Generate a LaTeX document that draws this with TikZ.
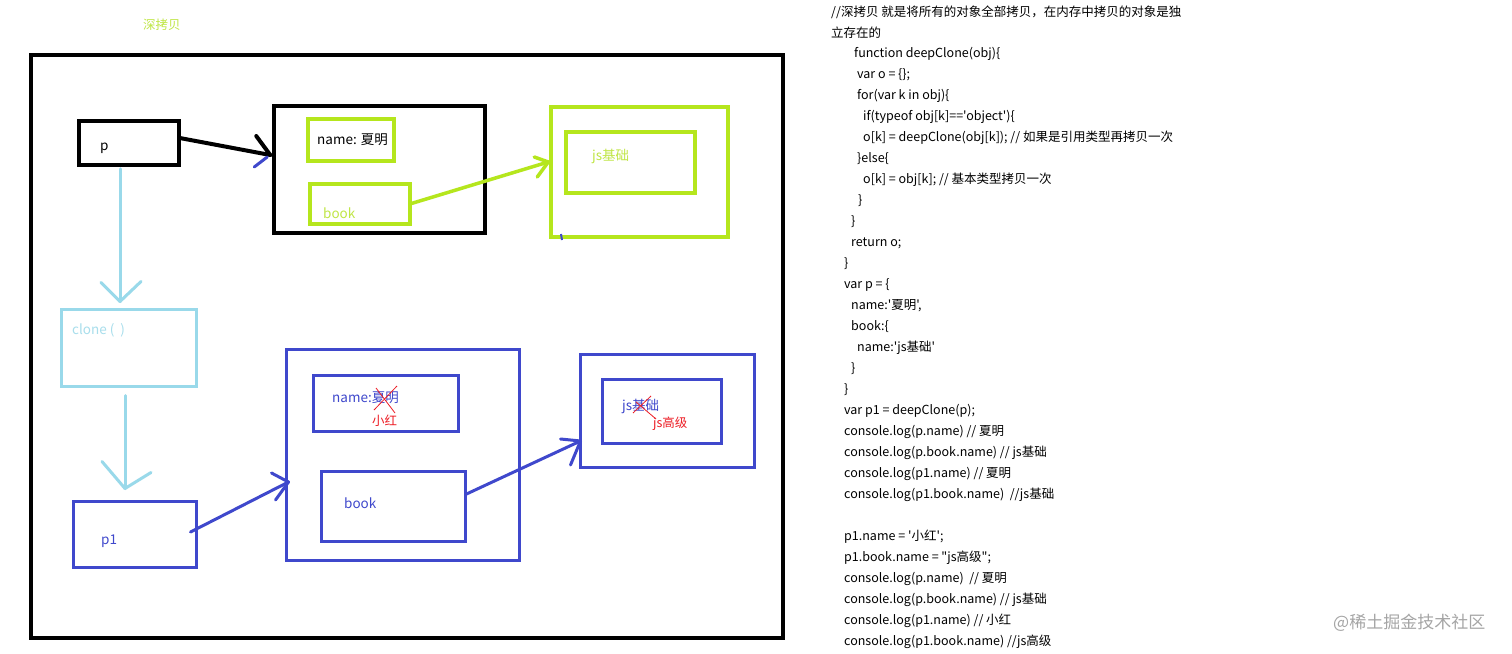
\documentclass[tikz,border=0pt]{standalone}
\usepackage{fontspec}
\newfontfamily\cjk{Noto Sans CJK SC}
\usetikzlibrary{fit,calc}
\definecolor{lime}{RGB}{181,230,29}
\definecolor{limetext}{RGB}{192,230,70}
\definecolor{lblue}{RGB}{153,217,234}
\definecolor{lbluetext}{RGB}{168,222,236}
\definecolor{indigo}{RGB}{63,72,204}
\definecolor{rd}{RGB}{237,28,36}
\definecolor{wm}{RGB}{165,165,165}
\begin{document}
\begin{tikzpicture}[x=1pt,y=-1pt,
  bx/.style={draw, rectangle, inner sep=0pt, minimum size=0pt},
  blk/.style={bx, draw=black, line width=3.5pt},
  grn/.style={bx, draw=lime, line width=3.5pt},
  lbl/.style={bx, draw=lblue, line width=3pt},
  ind/.style={bx, draw=indigo, line width=3pt},
  lab/.style={anchor=west, inner sep=0pt, font=\cjk\fontsize{13.5}{16}\selectfont},
  code/.style={anchor=west, inner sep=0pt, font=\cjk\fontsize{12.5}{15}\selectfont},
  blkarrow/.style={draw=black, line width=4pt, line cap=round},
  grnarrow/.style={draw=lime, line width=3.5pt, line cap=round},
  lblarrow/.style={draw=lblue, line width=3pt, line cap=round},
  indarrow/.style={draw=indigo, line width=3pt, line cap=round},
  cross/.style={draw=rd, line width=0.8pt}
]
\useasboundingbox (0,0) rectangle (1512,653);
\fill[white] (0,0) rectangle (1512,653);

% title
\node[lab, text=limetext, font=\cjk\fontsize{12.5}{15}\selectfont] (title) at (143,25) {深拷贝};

% frame
\node[blk, fit={(31,55)(783,638)}] (frame) {};

% p
\node[blk, fit={(79,121)(179,165)}] (p) {};
\node[lab] (ptext) at (100,148) {p};

% object of p
\node[blk, fit={(274,106)(485,233)}] (obj) {};
\node[grn, fit={(308,119)(394,161)}] (name) {};
\node[lab] (nametext) at (317,140) {name: 夏明};
\node[grn, fit={(310,184)(410,224)}] (book) {};
\node[lab, text=limetext] (booktext) at (323,213) {book};

% js object of p
\node[grn, fit={(551,107)(728,237)}] (jsA) {};
\node[grn, fit={(566,132)(695,193)}] (jsAin) {};
\node[lab, text=limetext] (jsAtext) at (592,156) {js基础};
\draw[indigo, line width=2pt] (561,234) -- (562,240);

% clone
\node[lbl, fit={(61,309)(196,386)}] (clone) {};
\node[lab, text=lbluetext] (clonetext) at (72,330) {clone (\ \ )};

% p1
\node[ind, fit={(73,501)(196,567)}] (p1) {};
\node[lab, text=indigo] (p1text) at (101,541) {p1};

% object of p1
\node[ind, fit={(286,349)(519,560)}] (obj1) {};
\node[ind, fit={(313,375)(458,431)}] (name1) {};
\node[lab, text=indigo] (name1text) at (332,398) {name:夏明};
\node[lab, text=rd, font=\cjk\fontsize{12.5}{15}\selectfont] (xh) at (372,421) {小红};
\draw[cross] (376,388) -- (395,413);
\draw[cross] (397,386) -- (374,410);
\node[ind, fit={(321,471)(465,541)}] (book1) {};
\node[lab, text=indigo] (book1text) at (344,503) {book};

% js object of p1
\node[ind, fit={(580,354)(754,467)}] (jsB) {};
\node[ind, fit={(602,379)(721,443)}] (jsBin) {};
\node[lab, text=indigo] (jsBtext) at (622,406) {js基础};
\node[lab, text=rd, font=\cjk\fontsize{12.5}{15}\selectfont] (jsgj) at (653,424) {js高级};
\draw[cross] (633,413) -- (651,396);
\draw[cross] (636,402) -- (656,419);

% connectors
\coordinate (t1) at ($(obj.west)+(-2,-14.5)$);
\draw[blkarrow] ($(p.east)+(-1,-5)$) -- (t1);
\draw[blkarrow] (t1) -- ++(-14,-19);
\draw[indigo, line width=3pt, line cap=round] (t1) ++(-3,2) -- ++(-13,10);

\coordinate (t2) at ($(jsA.west)+(-1,-10)$);
\draw[grnarrow] ($(book.east)+(-2,0)$) -- (t2);
\draw[grnarrow] (t2) -- ++(-14,-5);
\draw[grnarrow] (t2) -- ++(-11,15);

\coordinate (t3) at ($(clone.north)+(-8.5,-6)$);
\draw[lblarrow] ($(p.south)+(-9,2)$) -- (t3);
\draw[lblarrow] (t3) -- ++(-19,-19);
\draw[lblarrow] (t3) -- ++(21,-20);

\coordinate (t4) at ($(p1.north)+(-9.5,-11)$);
\draw[lblarrow] ($(clone.south)+(-3.5,8)$) -- (t4);
\draw[lblarrow] (t4) -- ++(-23,-27);
\draw[lblarrow] (t4) -- ++(26,-16);

\coordinate (t5) at ($(obj1.west)+(4,27.5)$);
\draw[indarrow] ($(p1.east)+(-7,-2)$) -- (t5);
\draw[indarrow] (t5) -- ++(-17,-9);
\draw[indarrow] (t5) -- ++(-13,18);

\coordinate (t6) at ($(jsB.west)+(2,30.5)$);
\draw[indarrow] ($(book1.east)+(0,-12)$) -- (t6);
\draw[indarrow] (t6) -- ++(-20,-2);
\draw[indarrow] (t6) -- ++(-10,24);

% code
\node[code] (c0) at (831,12) {//深拷贝 就是将所有的对象全部拷贝，在内存中拷贝的对象是独};
\node[code] (c1) at (831,33) {立存在的};
\node[code] (c2) at (854,54) {function deepClone(obj)\{};
\node[code] (c3) at (857,75) {var o = \{\};};
\node[code] (c4) at (857,96) {for(var k in obj)\{};
\node[code] (c5) at (863,117) {if(typeof obj[k]=='object')\{};
\node[code] (c6) at (863,138) {o[k] = deepClone(obj[k]); // 如果是引用类型再拷贝一次};
\node[code] (c7) at (857,159) {\}else\{};
\node[code] (c8) at (863,180) {o[k] = obj[k]; // 基本类型拷贝一次};
\node[code] (c9) at (858,201) {\}};
\node[code] (c10) at (851,222) {\}};
\node[code] (c11) at (851,243) {return o;};
\node[code] (c12) at (844,264) {\}};
\node[code] (c13) at (844,285) {var p = \{};
\node[code] (c14) at (851,306) {name:'夏明',};
\node[code] (c15) at (851,327) {book:\{};
\node[code] (c16) at (857,348) {name:'js基础'};
\node[code] (c17) at (851,369) {\}};
\node[code] (c18) at (844,390) {\}};
\node[code] (c19) at (844,411) {var p1 = deepClone(p);};
\node[code] (c20) at (844,432) {console.log(p.name) // 夏明};
\node[code] (c21) at (844,453) {console.log(p.book.name) // js基础};
\node[code] (c22) at (844,474) {console.log(p1.name) // 夏明};
\node[code] (c23) at (844,495) {console.log(p1.book.name)\ \ //js基础};
\node[code] (c25) at (844,537) {p1.name = '小红';};
\node[code] (c26) at (844,558) {p1.book.name = "js高级";};
\node[code] (c27) at (844,579) {console.log(p.name)\ \ // 夏明};
\node[code] (c28) at (844,600) {console.log(p.book.name) // js基础};
\node[code] (c29) at (844,621) {console.log(p1.name) // 小红};
\node[code] (c30) at (844,642) {console.log(p1.book.name) //js高级};

% watermark
\node[anchor=west, inner sep=0pt, text=wm, font=\cjk\fontsize{17}{20}\selectfont] (wmark) at (1333,623) {@稀土掘金技术社区};
\end{tikzpicture}
\end{document}
